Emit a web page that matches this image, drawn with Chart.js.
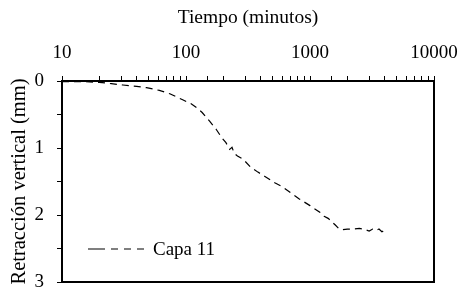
<!DOCTYPE html>
<html>
<head>
<meta charset="utf-8">
<script src="https://cdn.jsdelivr.net/npm/chart.js@4/dist/chart.umd.min.js"></script>
<style>
  html, body { margin: 0; padding: 0; background: #fff; }
  #wrap { width: 460px; height: 291px; }
</style>
</head>
<body>
<div id="wrap"><canvas id="chart" width="460" height="291"></canvas></div>
<script>
// Capa 11: tiempo (minutos) vs retraccion vertical (mm)
const tiempo = [10, 15, 20, 25, 31, 40, 48, 61, 74, 94, 110, 122, 135, 155, 175, 195, 210, 225, 235, 245, 260, 290, 330, 380, 430, 520, 600, 700, 820, 1000, 1200, 1300, 1400, 1500, 1600, 1700, 1800, 2000, 2200, 2500, 2800, 3000, 3200, 3400, 3600, 3800, 4000];
const retraccion = [0.01, 0.01, 0.02, 0.04, 0.06, 0.08, 0.10, 0.14, 0.19, 0.28, 0.34, 0.40, 0.47, 0.60, 0.72, 0.85, 0.92, 1.02, 0.99, 1.08, 1.12, 1.17, 1.28, 1.36, 1.42, 1.52, 1.58, 1.67, 1.76, 1.86, 1.96, 2.02, 2.05, 2.10, 2.15, 2.20, 2.22, 2.21, 2.21, 2.20, 2.22, 2.24, 2.21, 2.23, 2.21, 2.25, 2.23];
const xLabels = [10, 100, 1000, 10000];
const serieNombre = "Capa 11";

const fontFamily = "'Liberation Serif', 'Times New Roman', serif";
const fontSize = 19;

const framePlugin = {
  id: "frame",
  afterDraw(chart) {
    let { ctx, chartArea } = chart;
    ctx.save();
    ctx.strokeStyle = "#000";
    ctx.lineWidth = 2;
    ctx.strokeRect(chartArea.left, chartArea.top, chartArea.right - chartArea.left, chartArea.bottom - chartArea.top);
    ctx.restore();
  },
};

const legendPlugin = {
  id: "insideLegend",
  afterDraw(chart) {
    let { ctx, chartArea } = chart;
    let ds = chart.data.datasets[0];
    let x0 = chartArea.left + 26;
    let y0 = chartArea.bottom - 33;
    ctx.save();
    ctx.strokeStyle = ds.borderColor;
    ctx.lineWidth = ds.borderWidth;
    ctx.setLineDash([17, 6, 7, 6, 7, 6]);
    ctx.beginPath();
    ctx.moveTo(x0, y0);
    ctx.lineTo(x0 + 56, y0);
    ctx.stroke();
    ctx.setLineDash([]);
    ctx.fillStyle = "#000";
    ctx.font = fontSize + "px " + fontFamily;
    ctx.textBaseline = "middle";
    ctx.fillText(ds.label, x0 + 65, y0 + 1);
    ctx.restore();
  },
};

new Chart(document.getElementById("chart"), {
  type: "line",
  data: {
    datasets: [
      {
        label: serieNombre,
        data: tiempo.map((t, i) => ({ x: t, y: retraccion[i] })),
        borderColor: "#000",
        borderWidth: 1.2,
        borderDash: [7, 5],
        pointRadius: 0,
        fill: false,
        tension: 0,
      },
    ],
  },
  options: {
    responsive: false,
    animation: false,
    layout: { padding: { top: 0, right: 26, bottom: 9, left: 0 } },
    plugins: {
      legend: { display: false },
      tooltip: { enabled: false },
    },
    scales: {
      x: {
        type: "logarithmic",
        position: "top",
        min: 10,
        max: 10000,
        afterFit: (scale) => {
          scale.height = 81;
          scale.paddingLeft = 0;
          scale.paddingRight = 0;
        },
        title: {
          display: true,
          text: "Tiempo (minutos)",
          color: "#000",
          font: { family: fontFamily, size: 19.5 },
          padding: { top: 6, bottom: 0 },
        },
        ticks: {
          autoSkip: false,
          maxRotation: 0,
          color: "#000",
          padding: 12,
          font: { family: fontFamily, size: fontSize },
          callback: (v) => (xLabels.includes(v) ? String(v) : ""),
        },
        grid: {
          drawOnChartArea: false,
          tickLength: 5,
          tickColor: "#000",
          tickWidth: 1,
        },
        border: { display: true, color: "#000", width: 2 },
      },
      y: {
        type: "linear",
        reverse: true,
        min: 0,
        max: 3,
        afterFit: (scale) => {
          scale.width = 62;
          scale.paddingTop = 0;
          scale.paddingBottom = 0;
        },
        title: {
          display: true,
          text: "Retracción vertical (mm)",
          color: "#000",
          font: { family: fontFamily, size: 20.5 },
          padding: { top: 7, bottom: 0 },
        },
        ticks: {
          stepSize: 0.25,
          color: "#000",
          padding: 13,
          font: { family: fontFamily, size: fontSize },
          callback: (v) => (Number.isInteger(v) ? String(v) : ""),
        },
        grid: {
          drawOnChartArea: false,
          tickLength: 5,
          tickColor: "#000",
          tickWidth: 1,
        },
        border: { display: true, color: "#000", width: 2 },
      },
    },
  },
  plugins: [framePlugin, legendPlugin],
});
</script>
</body>
</html>
